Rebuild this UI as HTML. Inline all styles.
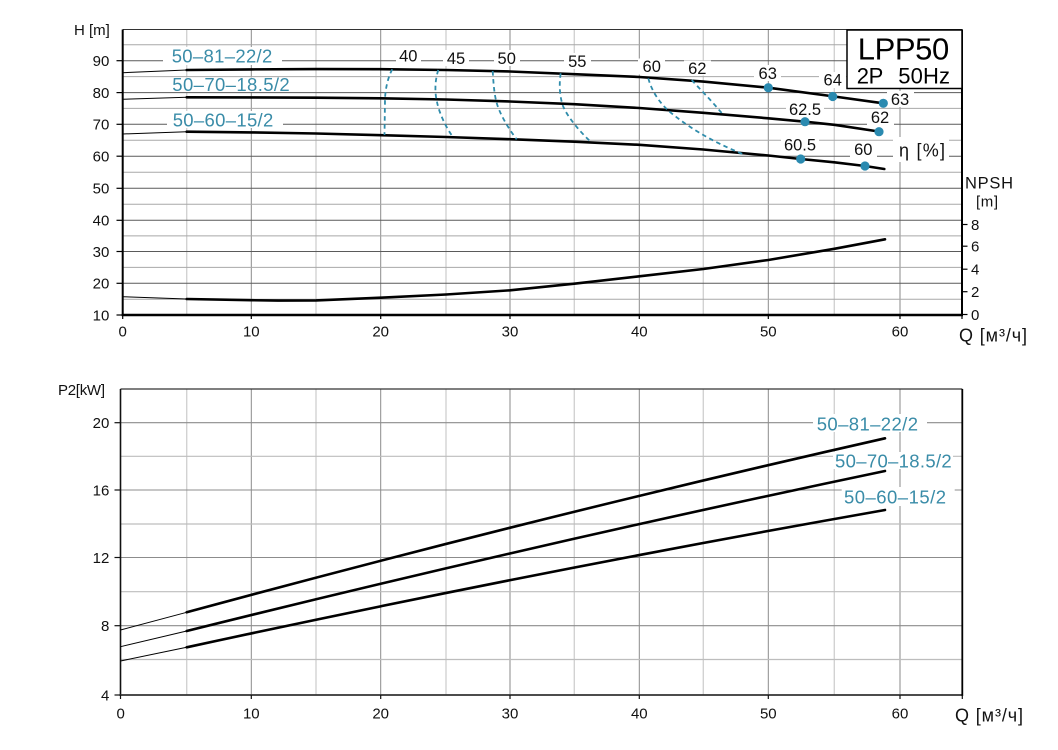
<!DOCTYPE html>
<html><head><meta charset="utf-8"><style>
html,body{margin:0;padding:0;background:#fff;}
svg{display:block;}
text{font-family:"Liberation Sans",Arial,sans-serif;}
</style></head><body>
<svg xmlns="http://www.w3.org/2000/svg" width="1058" height="750" viewBox="0 0 1058 750">
<rect width="1058" height="750" fill="#fff"/>
<!-- ================= TOP CHART ================= -->
<g stroke="#d2d2d2" stroke-width="1.4" fill="none">
<line x1="186.7" y1="29.5" x2="186.7" y2="315"/><line x1="316" y1="29.5" x2="316" y2="315"/>
<line x1="446" y1="29.5" x2="446" y2="315"/><line x1="574.3" y1="29.5" x2="574.3" y2="315"/>
<line x1="703.3" y1="29.5" x2="703.3" y2="315"/><line x1="834.3" y1="29.5" x2="834.3" y2="315"/>
</g>
<g stroke="#8a8a8a" stroke-width="1" fill="none">
<line x1="251.3" y1="29.5" x2="251.3" y2="315"/><line x1="380.7" y1="29.5" x2="380.7" y2="315"/>
<line x1="510" y1="29.5" x2="510" y2="315"/><line x1="639.3" y1="29.5" x2="639.3" y2="315"/>
<line x1="768.3" y1="29.5" x2="768.3" y2="315"/><line x1="900" y1="29.5" x2="900" y2="315"/>
</g>
<g stroke="#a8a8a8" stroke-width="1" fill="none">
<line x1="122.7" y1="299.2" x2="962" y2="299.2"/><line x1="122.7" y1="267.4" x2="962" y2="267.4"/>
<line x1="122.7" y1="235.9" x2="962" y2="235.9"/><line x1="122.7" y1="204.3" x2="962" y2="204.3"/>
<line x1="122.7" y1="172.2" x2="962" y2="172.2"/><line x1="122.7" y1="140.2" x2="962" y2="140.2"/>
<line x1="122.7" y1="108.4" x2="962" y2="108.4"/><line x1="122.7" y1="76.6" x2="962" y2="76.6"/>
<line x1="122.7" y1="44.8" x2="962" y2="44.8"/>
</g>
<g stroke="#5a5a5a" stroke-width="1" fill="none">
<line x1="122.7" y1="283.3" x2="962" y2="283.3"/><line x1="122.7" y1="251.5" x2="962" y2="251.5"/>
<line x1="122.7" y1="220.3" x2="962" y2="220.3"/><line x1="122.7" y1="188.3" x2="962" y2="188.3"/>
<line x1="122.7" y1="156.2" x2="962" y2="156.2"/><line x1="122.7" y1="124.3" x2="962" y2="124.3"/>
<line x1="122.7" y1="92.6" x2="962" y2="92.6"/><line x1="122.7" y1="60.7" x2="962" y2="60.7"/>
<line x1="122.7" y1="29.5" x2="962" y2="29.5" stroke="#333"/>
</g>
<!-- label backgrounds -->
<g fill="#fff">
<rect x="163" y="47" width="119" height="18"/>
<rect x="166" y="77.5" width="130" height="14.5"/>
<rect x="167" y="111" width="116" height="17"/>
<rect x="396" y="48" width="25" height="16"/>
<rect x="443" y="50" width="26" height="16"/>
<rect x="494" y="50" width="26" height="16"/>
<rect x="564" y="53" width="27" height="16"/>
<rect x="638" y="58.5" width="27" height="16"/>
<rect x="684" y="60.5" width="27" height="15"/>
<rect x="754" y="65" width="27" height="16"/>
<rect x="819" y="72" width="27" height="16"/>
<rect x="887" y="91" width="27" height="16"/>
<rect x="786" y="101" width="38" height="16"/>
<rect x="867" y="110" width="27" height="15"/>
<rect x="781" y="137" width="38" height="16"/>
<rect x="850" y="141" width="27" height="16"/>
<rect x="893" y="137" width="56" height="25"/>
</g>
<!-- axes -->
<line x1="122.7" y1="29.5" x2="122.7" y2="316" stroke="#000" stroke-width="2"/>
<line x1="121.7" y1="315" x2="963" y2="315" stroke="#000" stroke-width="2.5"/>
<line x1="962" y1="29.5" x2="962" y2="316" stroke="#000" stroke-width="2"/>
<g stroke="#000" stroke-width="1.2">
<line x1="116.5" y1="315" x2="122.7" y2="315"/><line x1="116.5" y1="283.3" x2="122.7" y2="283.3"/>
<line x1="116.5" y1="251.5" x2="122.7" y2="251.5"/><line x1="116.5" y1="220.3" x2="122.7" y2="220.3"/>
<line x1="116.5" y1="188.3" x2="122.7" y2="188.3"/><line x1="116.5" y1="156.2" x2="122.7" y2="156.2"/>
<line x1="116.5" y1="124.3" x2="122.7" y2="124.3"/><line x1="116.5" y1="92.6" x2="122.7" y2="92.6"/>
<line x1="116.5" y1="60.7" x2="122.7" y2="60.7"/>
<line x1="122.7" y1="315" x2="122.7" y2="319"/><line x1="251.3" y1="315" x2="251.3" y2="319"/>
<line x1="380.7" y1="315" x2="380.7" y2="319"/><line x1="510" y1="315" x2="510" y2="319"/>
<line x1="639.3" y1="315" x2="639.3" y2="319"/><line x1="768.3" y1="315" x2="768.3" y2="319"/>
<line x1="900" y1="315" x2="900" y2="319"/><line x1="962" y1="315" x2="962" y2="319"/>
<line x1="962" y1="314.5" x2="967.5" y2="314.5"/><line x1="962" y1="291.7" x2="967.5" y2="291.7"/>
<line x1="962" y1="269.2" x2="967.5" y2="269.2"/><line x1="962" y1="246.2" x2="967.5" y2="246.2"/>
<line x1="962" y1="224.5" x2="967.5" y2="224.5"/>
</g>
<!-- LPP50 box -->
<rect x="847" y="30" width="115" height="58.5" fill="#fff" stroke="#000" stroke-width="1.5"/>
<text x="857.7" y="59.3" font-size="31" textLength="91.6">LPP50</text>
<text x="856.7" y="83.3" font-size="22" textLength="26.6">2P</text>
<text x="898.3" y="83.3" font-size="22" textLength="51.7">50Hz</text>
<!-- curves thin parts -->
<g stroke="#000" stroke-width="1" fill="none">
<line x1="122.7" y1="72.7" x2="186.7" y2="70"/>
<line x1="122.7" y1="99.3" x2="186.7" y2="97.3"/>
<line x1="122.7" y1="134" x2="186.7" y2="131.7"/>
<line x1="122.7" y1="296.7" x2="186.7" y2="299"/>
</g>
<g stroke="#000" stroke-width="2.6" fill="none" stroke-linejoin="round" stroke-linecap="round">
<polyline points="186.7,70 251.3,69.4 316,69.1 380.7,69.2 446,70 510,71.5 574.3,74.2 639.3,77 703.3,81.6 768.3,87.7 834.3,96.5 883.3,103.3"/>
<polyline points="186.7,97.3 251.3,97.4 316,97.7 380.7,98.3 446,99.5 510,101.5 574.3,104.2 639.3,108 703.3,112.8 768.3,118.3 805,121.7 834.3,124.8 882,132"/>
<polyline points="186.7,131.7 251.3,132.4 316,133.5 380.7,135.2 446,137 510,139.2 574.3,141.7 639.3,144.8 703.3,149.5 768.3,155.5 800.7,159 834.3,162.3 865,166 884.3,169"/>
<polyline points="186.7,299 251.3,300.2 278,300.6 316,300.4 380.7,297.7 446,294.5 510,290.3 574.3,283.7 639.3,276.3 703.3,269 768.3,260 834.3,248.8 885,239.3"/>
</g>
<!-- efficiency dashed -->
<g stroke="#2f8cab" stroke-width="1.8" fill="none" stroke-dasharray="4.5 3.5">
<path d="M392.3,69.3 C388.5,76 385.2,88 385,100 L384.5,135"/>
<path d="M438.3,70 C435,80 434.5,92 437,102 C439,112 445,126 452.7,136.7"/>
<path d="M492.7,71 C493.5,85 494.5,96 497,104 C500,114 508,128 516.7,139.3"/>
<path d="M560.7,73.3 C559,84 559.5,96 563,106 C567,116 579,131 590.7,141.7"/>
<path d="M648.3,78.3 C652,92 660,103 668.3,110.5 C685,125 710,141 745,155"/>
<path d="M691.7,80 C697,86 712,101 723.3,115"/>
</g>
<!-- dots -->
<g fill="#2a8ab0">
<circle cx="768.3" cy="87.7" r="4.6"/><circle cx="832.7" cy="96.5" r="4.6"/><circle cx="883.3" cy="103.3" r="4.6"/>
<circle cx="805" cy="121.7" r="4.6"/><circle cx="879" cy="131.7" r="4.6"/>
<circle cx="800.7" cy="159" r="4.6"/><circle cx="865" cy="166" r="4.6"/>
</g>
<!-- curve labels -->
<g fill="#3a8ca8" font-size="18.5">
<text x="171.7" y="62.3" textLength="100.6">50–81–22/2</text>
<text x="172.3" y="91" textLength="117.4">50–70–18.5/2</text>
<text x="172.7" y="126.5" textLength="100.6">50–60–15/2</text>
</g>
<g fill="#111" font-size="16.5" text-anchor="middle">
<text x="408.3" y="61.5">40</text>
<text x="456" y="63.8">45</text>
<text x="506.7" y="63.8">50</text>
<text x="577.3" y="67.2">55</text>
<text x="651.7" y="72.2">60</text>
<text x="697.3" y="73.8">62</text>
<text x="767.7" y="78.8">63</text>
<text x="832.7" y="85.5">64</text>
<text x="900" y="104.8">63</text>
<text x="805" y="114.8">62.5</text>
<text x="880" y="123.2">62</text>
<text x="800" y="150.5">60.5</text>
<text x="863.3" y="154.8">60</text>
</g>
<text x="899" y="156.5" font-size="18" textLength="46" fill="#111">η [%]</text>
<!-- axis labels top -->
<g fill="#111" font-size="15">
<text x="74" y="35" font-size="15">H [m]</text>
<text x="965" y="188.3" font-size="16.5" textLength="48">NPSH</text>
<text x="976" y="206.5" textLength="22">[m]</text>
<text x="959" y="341.7" font-size="18" textLength="68">Q [м³/ч]</text>
</g>
<g fill="#111" font-size="15" text-anchor="end">
<text x="109.3" y="320.3">10</text><text x="109.3" y="288.6">20</text>
<text x="109.3" y="256.8">30</text><text x="109.3" y="225.6">40</text>
<text x="109.3" y="193.6">50</text><text x="109.3" y="161.5">60</text>
<text x="109.3" y="129.6">70</text><text x="109.3" y="97.9">80</text>
<text x="109.3" y="66">90</text>
</g>
<g fill="#111" font-size="15" text-anchor="middle">
<text x="122.7" y="336.7">0</text><text x="251.3" y="336.7">10</text>
<text x="380.7" y="336.7">20</text><text x="510" y="336.7">30</text>
<text x="639.3" y="336.7">40</text><text x="768.3" y="336.7">50</text>
<text x="900" y="336.7">60</text>
</g>
<g fill="#111" font-size="15">
<text x="971" y="319.8">0</text><text x="971" y="297">2</text>
<text x="971" y="274.5">4</text><text x="971" y="251.5">6</text>
<text x="971" y="230">8</text>
</g>

<!-- ================= BOTTOM CHART ================= -->
<g stroke="#d2d2d2" stroke-width="1.4" fill="none">
<line x1="186.7" y1="389" x2="186.7" y2="695"/><line x1="316" y1="389" x2="316" y2="695"/>
<line x1="446" y1="389" x2="446" y2="695"/><line x1="574.3" y1="389" x2="574.3" y2="695"/>
<line x1="703.3" y1="389" x2="703.3" y2="695"/><line x1="834.3" y1="389" x2="834.3" y2="695"/>
</g>
<g stroke="#8a8a8a" stroke-width="1" fill="none">
<line x1="251.3" y1="389" x2="251.3" y2="695"/><line x1="380.7" y1="389" x2="380.7" y2="695"/>
<line x1="510" y1="389" x2="510" y2="695"/><line x1="639.3" y1="389" x2="639.3" y2="695"/>
<line x1="768.3" y1="389" x2="768.3" y2="695"/><line x1="900" y1="389" x2="900" y2="695"/>
</g>
<g stroke="#bdbdbd" stroke-width="1.2" fill="none">
<line x1="120.5" y1="659.5" x2="962" y2="659.5"/><line x1="120.5" y1="591.7" x2="962" y2="591.7"/>
<line x1="120.5" y1="524" x2="962" y2="524"/><line x1="120.5" y1="456.3" x2="962" y2="456.3"/>
</g>
<g stroke="#8c8c8c" stroke-width="1.1" fill="none">
<line x1="120.5" y1="625.7" x2="962" y2="625.7"/><line x1="120.5" y1="557.5" x2="962" y2="557.5"/>
<line x1="120.5" y1="490" x2="962" y2="490"/><line x1="120.5" y1="422.7" x2="962" y2="422.7"/>
</g>
<line x1="120.5" y1="389" x2="962.3" y2="389" stroke="#333" stroke-width="1.2"/>
<g fill="#fff">
<rect x="813" y="414" width="114" height="18"/>
<rect x="833" y="452" width="120" height="17"/>
<rect x="841.7" y="487" width="113" height="19"/>
</g>
<line x1="120.5" y1="389" x2="120.5" y2="696" stroke="#111" stroke-width="1.6"/>
<line x1="119.5" y1="695" x2="963" y2="695" stroke="#333" stroke-width="1.8"/>
<line x1="962.3" y1="389" x2="962.3" y2="696" stroke="#000" stroke-width="1.8"/>
<g stroke="#111" stroke-width="1.2">
<line x1="114.5" y1="695" x2="120.5" y2="695"/><line x1="114.5" y1="625.7" x2="120.5" y2="625.7"/>
<line x1="114.5" y1="557.5" x2="120.5" y2="557.5"/><line x1="114.5" y1="490" x2="120.5" y2="490"/>
<line x1="114.5" y1="422.7" x2="120.5" y2="422.7"/>
<line x1="120.5" y1="695" x2="120.5" y2="699"/><line x1="251.3" y1="695" x2="251.3" y2="699"/>
<line x1="380.7" y1="695" x2="380.7" y2="699"/><line x1="510" y1="695" x2="510" y2="699"/>
<line x1="639.3" y1="695" x2="639.3" y2="699"/><line x1="768.3" y1="695" x2="768.3" y2="699"/>
<line x1="900" y1="695" x2="900" y2="699"/><line x1="962.3" y1="695" x2="962.3" y2="699"/>
</g>
<g stroke="#000" stroke-width="1" fill="none">
<line x1="120.5" y1="630" x2="186.7" y2="612.3"/>
<line x1="120.5" y1="646.7" x2="186.7" y2="631"/>
<line x1="120.5" y1="661" x2="186.7" y2="647.3"/>
</g>
<g stroke="#000" stroke-width="2.6" fill="none" stroke-linecap="round">
<path d="M186.7,612.3 Q535.85,517.3 885,438.3"/>
<path d="M186.7,631 Q535.85,544 885,471"/>
<path d="M186.7,647.3 Q535.85,571.5 885,510"/>
</g>
<g fill="#3a8ca8" font-size="18.5">
<text x="816.7" y="430.7" textLength="101.3">50–81–22/2</text>
<text x="835" y="467.3" textLength="116.7">50–70–18.5/2</text>
<text x="844" y="503.3" textLength="102">50–60–15/2</text>
</g>
<g fill="#111" font-size="15">
<text x="58" y="395" textLength="47">P2[kW]</text>
<text x="955" y="721.7" font-size="18" textLength="68">Q [м³/ч]</text>
</g>
<g fill="#111" font-size="15" text-anchor="end">
<text x="109.3" y="700.3">4</text><text x="109.3" y="631">8</text>
<text x="109.3" y="562.8">12</text><text x="109.3" y="495.3">16</text>
<text x="109.3" y="428">20</text>
</g>
<g fill="#111" font-size="15" text-anchor="middle">
<text x="120.7" y="718.3">0</text><text x="251.3" y="718.3">10</text>
<text x="380.7" y="718.3">20</text><text x="510" y="718.3">30</text>
<text x="639.3" y="718.3">40</text><text x="768.3" y="718.3">50</text>
<text x="900" y="718.3">60</text>
</g>
</svg>
</body></html>
